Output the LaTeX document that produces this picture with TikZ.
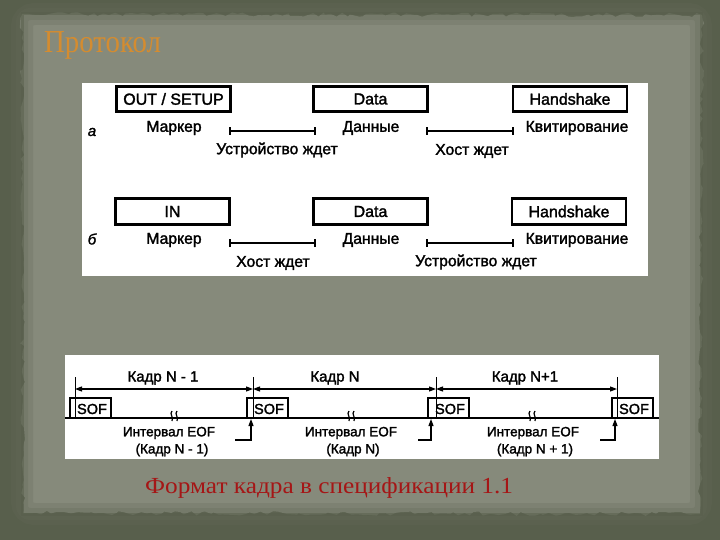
\documentclass[tikz,border=0pt]{standalone}
\usepackage{fontspec}
\setmainfont{Liberation Sans}
\newfontfamily\serifx{Liberation Serif}
\newfontfamily\labfont[FakeBold=1.8]{Liberation Sans}
\usetikzlibrary{arrows.meta,decorations.pathmorphing}
\definecolor{outerbg}{RGB}{88,95,76}
\definecolor{paper}{RGB}{134,138,123}
\definecolor{paperedge}{RGB}{100,106,88}
\definecolor{titlecol}{RGB}{212,140,48}
\definecolor{capcol}{RGB}{165,22,22}
\begin{document}
\begin{tikzpicture}[x=1pt,y=-1pt,
  pbox/.style={draw=black,line width=2.6pt,minimum width=114pt,minimum height=25.5pt,inner sep=0pt,font=\labfont\fontsize{16}{16}\selectfont},
  lab/.style={inner sep=0pt,font=\labfont\fontsize{15.7}{16}\selectfont},
  blab/.style={inner sep=0pt,font=\labfont\fontsize{13.5}{15}\selectfont},
  klab/.style={inner sep=0pt,font=\labfont\fontsize{15}{15}\selectfont},
  wait/.style={line width=1.4pt},
  tick/.style={line width=1.8pt},
  bound/.style={line width=0.8pt},
  dimarr/.style={line width=1.1pt,{Triangle[length=7pt,width=5pt]}-{Triangle[length=7pt,width=5pt]}},
  uparr/.style={line width=1.1pt,-{Triangle[length=7pt,width=5pt]}},
  brk/.style={line width=1.2pt}]
\useasboundingbox (0,0) rectangle (720,540);
% background
\fill[outerbg] (0,0) rectangle (720,540);
\pgfmathsetseed{11}
\path[fill=paper,decorate,decoration={random steps,segment length=5pt,amplitude=2.2pt}]
  (22,14) -- (702,15) -- (700,514) -- (23,513) -- cycle;
\draw[paperedge,line width=22pt,opacity=0.25,rounded corners=12pt] (22,14) rectangle (701,514);
\draw[paperedge,line width=12pt,opacity=0.3,rounded corners=8pt] (22,14) rectangle (701,514);
\draw[outerbg,line width=3pt,opacity=0.5] (22,14) rectangle (701,514);
% title and caption
\node[anchor=west,inner sep=0pt,text=titlecol,font=\serifx\fontsize{32}{32}\selectfont,xscale=0.9] (title) at (44,45) {Протокол};
\node[anchor=west,inner sep=0pt,text=capcol,font=\serifx\fontsize{23}{24}\selectfont,xscale=1.1] (cap) at (145,488) {Формат кадра в спецификации 1.1};
% ---------- top panel ----------
\fill[white] (82,83) rectangle (648,276);
\node[pbox] (outsetup) at (173.5,99) {OUT / SETUP};
\node[pbox] (dataA) at (370.5,99) {Data};
\node[pbox] (hsA) at (570,99) {Handshake};
\node[lab,font=\labfont\itshape\fontsize{15}{16}\selectfont] (la) at (92,132) {а};
\node[lab] (mA) at (174,128) {Маркер};
\node[lab] (dA) at (371,128) {Данные};
\node[lab] (kA) at (577,128) {Квитирование};
\node[lab] (wA1) at (277,150) {Устройство ждет};
\node[lab] (wA2) at (472,151) {Хост ждет};
\node[pbox] (in) at (172.5,211.5) {IN};
\node[pbox] (dataB) at (370.5,211.5) {Data};
\node[pbox] (hsB) at (569,211.5) {Handshake};
\node[lab,font=\labfont\itshape\fontsize{15}{16}\selectfont] (lb) at (92,239) {б};
\node[lab] (mB) at (174,240) {Маркер};
\node[lab] (dB) at (371,240) {Данные};
\node[lab] (kB) at (577,240) {Квитирование};
\node[lab] (wB1) at (273,263) {Хост ждет};
\node[lab] (wB2) at (476,262) {Устройство ждет};
\foreach \n/\xs/\xe/\y in {a1/230/315/131,a2/427/513/131,b1/230/315/243,b2/427/513/243}{
  \coordinate (\n s) at (\xs,\y); \coordinate (\n e) at (\xe,\y);
  \draw[wait] (\n s) -- (\n e);
  \draw[tick] ([yshift=-4pt]\n s) -- ([yshift=4pt]\n s);
  \draw[tick] ([yshift=-4pt]\n e) -- ([yshift=4pt]\n e);
}
% ---------- bottom panel ----------
\fill[white] (65,355) rectangle (659,459);
\coordinate (bl) at (65,418); \coordinate (br) at (659,418);
\draw[line width=1.6pt] (bl) -- (br);
\foreach \i/\x in {1/75,2/253,3/436,4/617}{
  \coordinate (t\i) at (\x,377); \coordinate (f\i) at (\x,418);
  \coordinate (d\i) at (\x,389);
  \draw[bound] (t\i) -- (f\i);
}
\draw[dimarr] (d1) -- (d2);
\draw[dimarr] (d2) -- (d3);
\draw[dimarr] (d3) -- (d4);
\node[klab] (k1) at (163,378) {Кадр N - 1};
\node[klab] (k2) at (335,378) {Кадр N};
\node[klab] (k3) at (525,378) {Кадр N+1};
\foreach \i/\x in {1/70,2/247,3/428,4/612}{
  \draw[line width=1.1pt] (\x,418) rectangle ++(41,-20);
  \node[klab,font=\labfont\fontsize{14.5}{15}\selectfont] (sof\i) at (\x+22,409) {SOF};
}
\foreach \i/\x/\y in {1/235/251,2/418/431,3/600/615}{
  \coordinate (ua\i) at (\x,440); \coordinate (ub\i) at (\y,440); \coordinate (uc\i) at (\y,419);
  \draw[uparr] (ua\i) -- (ub\i) -- (uc\i);
}
\foreach \x in {175,352,533}{
  \draw[brk] (\x-3,411) .. controls (\x-6,414) and (\x-1,417) .. (\x-3,421);
  \draw[brk] (\x+2,411) .. controls (\x-1,414) and (\x+4,417) .. (\x+2,421);
}
\node[blab] (e1) at (169,433) {Интервал EOF};
\node[blab] (c1) at (172,450) {(Кадр N - 1)};
\node[blab] (e2) at (351,433) {Интервал EOF};
\node[blab] (c2) at (353,450) {(Кадр N)};
\node[blab] (e3) at (533,433) {Интервал EOF};
\node[blab] (c3) at (535,450) {(Кадр N + 1)};
\end{tikzpicture}
\end{document}
